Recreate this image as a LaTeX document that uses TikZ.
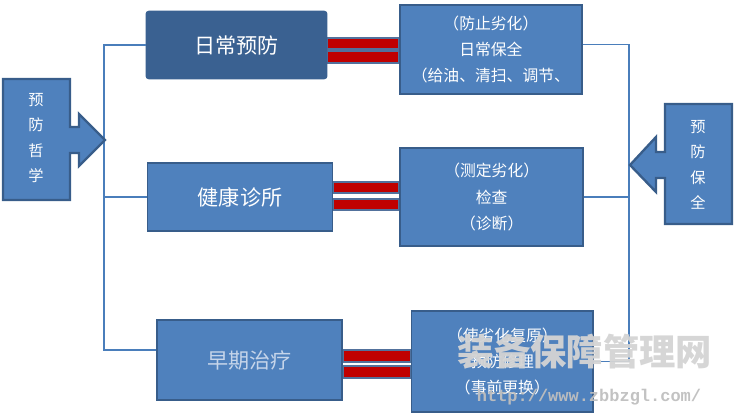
\documentclass[tikz,border=0pt]{standalone}
\usepackage{fontspec}
\setmainfont{Noto Sans CJK SC}
\newfontfamily\webfont{Liberation Mono}
\usepackage{xcolor}
\usetikzlibrary{positioning, calc, backgrounds}
\definecolor{boxfill}{HTML}{4F81BD}
\definecolor{boxline}{HTML}{385D8A}
\definecolor{boxdark}{HTML}{3A6191}
\definecolor{barred}{HTML}{C00000}
\definecolor{barline}{HTML}{52719C}
\definecolor{linkblue}{HTML}{4A7EBB}
\definecolor{paletext}{HTML}{C6D5EA}
\tikzset{
    diagram/.style={x=0.03cm, y=-0.03cm},
    stage/.style={draw=boxline, line width=1.6pt, fill=boxfill, text=white, inner sep=0pt, align=center, font=\fontsize{18}{22}\selectfont},
    daily/.style={stage, fill=boxdark, draw=boxdark, rounded corners=2pt},
    task/.style={stage, font=\fontsize{13.5}{22.5}\selectfont},
    eqbar/.style={draw=barline, line width=1.5pt, fill=barred},
    link/.style={draw=linkblue, line width=0.9pt},
    callout/.style={draw=boxline, line width=2pt, fill=boxfill},
    calltext/.style={text=white, align=center, inner sep=0pt, font=\fontsize{13}{21.8}\selectfont},
    watermark/.style={text=black!17, inner sep=0pt, opacity=0.95},
}

\begin{document}
\begin{tikzpicture}[diagram]
    \useasboundingbox (0,0) rectangle (737,418);

    % left column
    \node[daily, minimum width=5.4cm, minimum height=2.0cm]  (prevent) at (236.5,45)  {日常预防};
    \node[stage, minimum width=5.55cm, minimum height=2.05cm] (clinic) at (240,197)  {健康诊所};
    \node[stage, minimum width=5.55cm, minimum height=2.4cm, text=paletext] (treat) at (249.5,360) {早期治疗};

    % right column
    \node[task, minimum width=5.45cm, minimum height=2.68cm, right=2.15cm of prevent, yshift=-3.8pt] (upkeep)
        {（防止劣化）\\日常保全\\（给油、清扫、调节、};
    \node[task, minimum width=5.5cm, minimum height=2.95cm, right=1.97cm of clinic] (inspect)
        {（测定劣化）\\检查\\（诊断）};
    \node[task, minimum width=5.45cm, minimum height=3.05cm, right=2.03cm of treat, yshift=-1.3pt] (repair)
        {（使劣化复原）\\预防修理\\（事前更换）};

    % double bars between the columns
    \begin{scope}[on background layer]
        \draw[eqbar] ($(prevent.east)+(0,-7)$) rectangle ($(prevent.east -| upkeep.west)+(0,4)$);
        \draw[eqbar] ($(prevent.east)+(0,6)$) rectangle ($(prevent.east -| upkeep.west)+(0,18)$);
        \draw[eqbar] ($(clinic.east)+(0,-15)$) rectangle ($(clinic.east -| inspect.west)+(0,-4)$);
        \draw[eqbar] ($(clinic.east)+(0,2)$) rectangle ($(clinic.east -| inspect.west)+(0,13)$);
        \draw[eqbar] ($(treat.east)+(0,-10)$) rectangle ($(treat.east -| repair.west)+(0,2)$);
        \draw[eqbar] ($(treat.east)+(0,6)$) rectangle ($(treat.east -| repair.west)+(0,18)$);
    \end{scope}

    % brackets
    \coordinate (lbus) at (104,200);
    \coordinate (rbus) at (629,200);
    \draw[link] (prevent.west) -| (lbus) |- ($(treat.west)+(0,-10)$);
    \draw[link] (clinic.west) -- (clinic.west -| lbus);
    \draw[link] ($(upkeep.east)+(0,-5)$) -| (rbus) |- (repair.east);
    \draw[link] (inspect.east) -- (inspect.east -| rbus);

    % arrow callouts
    \draw[callout] (3,79) -- (70,79) -- (70,127) -- (79,127) -- (79,114) -- (105,140)
        -- (79,166) -- (79,153) -- (70,153) -- (70,200) -- (3,200) -- cycle;
    \node[calltext] (philo) at (36,138) {预\\防\\哲\\学};
    \draw[callout] (732,104) -- (665,104) -- (665,152) -- (656,152) -- (656,137) -- (630,165)
        -- (656,192) -- (656,178) -- (665,178) -- (665,224) -- (732,224) -- cycle;
    \node[calltext] (care) at (698,165) {预\\防\\保\\全};

    % site mark
    \node[watermark, font=\fontsize{31}{31}\selectfont\bfseries] (wmark) at (585,352) {装备保障管理网};
    \node[watermark, text=black!25, font=\webfont\fontsize{14.5}{15}\selectfont\bfseries] (wurl) at (589,397) {http://www.zbbzgl.com/};
\end{tikzpicture}
\end{document}
